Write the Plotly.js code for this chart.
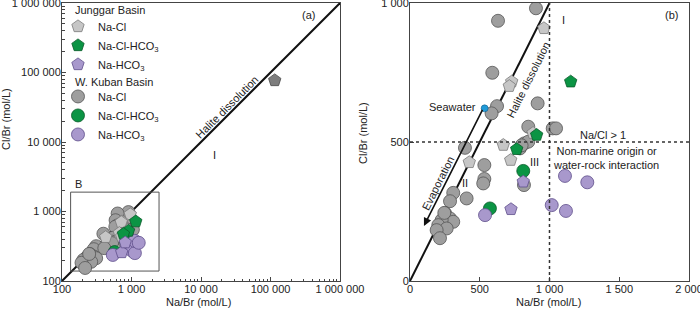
<!DOCTYPE html>
<html><head><meta charset="utf-8">
<script src="https://cdn.plot.ly/plotly-3.0.1.min.js"></script>
<style>html,body{margin:0;padding:0;background:#fff}</style></head>
<body>
<div id="chart" style="width:700px;height:313px"></div>
<script>
// Junggar Basin (pentagons)
const jNaCl_x = [960, 729, 712, 669, 722, 425, 882];
const jNaCl_y = [909, 717, 701, 489, 435, 427, 532];
const jNaClFar_x = [115000];
const jNaClFar_y = [77000];
const jNaClHCO3_x = [1152, 908, 765];
const jNaClHCO3_y = [717, 525, 474];
const jNaHCO3_x = [724, 812];
const jNaHCO3_y = [258, 357];
// W. Kuban Basin (circles)
const kNaCl_x = [903, 631, 590, 915, 624, 585, 1023, 1047, 848, 819, 848, 788, 800, 394, 533, 533, 525, 817, 310, 287, 406, 251, 287, 310, 227, 203, 263, 191, 215, 246];
const kNaCl_y = [981, 936, 749, 639, 629, 603, 549, 549, 555, 495, 501, 477, 488, 479, 417, 367, 351, 345, 317, 287, 297, 244, 225, 213, 219, 201, 189, 183, 154, 245];
const kNaClHCO3_x = [812, 573];
const kNaClHCO3_y = [396, 261];
const kNaHCO3_x = [538, 1016, 1118, 1111, 1271];
const kNaHCO3_y = [237, 273, 252, 378, 355];
// Seawater
const sea_x = [535];
const sea_y = [621];
// reference lines
const haliteA = [100, 1000000];
const haliteB = [0, 1000];
const boxB_x = [133, 2490, 2490, 133, 133];
const boxB_y = [139, 139, 1900, 1900, 139];
const logTicks = [100, 1000, 10000, 100000, 1000000];
const linTicksX = [0, 500, 1000, 1500, 2000];
const linTicksY = [0, 500, 1000];

const FONT = 'Liberation Sans, Arial, sans-serif';
const TXT = '#222';

const styles = {
  kNaCl: {symbol:'circle', size:13, color:'#9e9e9e', line:{color:'#555', width:0.8}},
  kNaClHCO3: {symbol:'circle', size:13, color:'#0b9444', line:{color:'#0a5a2a', width:0.8}},
  kNaHCO3: {symbol:'circle', size:13, color:'#a898cc', line:{color:'#5e4e8a', width:0.8}},
  jNaCl: {symbol:'pentagon', size:13, color:'#c6c6c6', line:{color:'#7a7a7a', width:0.8}},
  jNaClHCO3: {symbol:'pentagon', size:13, color:'#0b9444', line:{color:'#0a5a2a', width:0.8}},
  jNaHCO3: {symbol:'pentagon', size:13, color:'#a898cc', line:{color:'#5e4e8a', width:0.8}},
};

const traces = [];
function line(x, y, xa, ya, color, width) {
  traces.push({x:x, y:y, xaxis:xa, yaxis:ya, mode:'lines', line:{color:color, width:width}, showlegend:false, hoverinfo:'skip'});
}
line(haliteA, haliteA, 'x', 'y', '#111', 2);
line(haliteB, haliteB, 'x2', 'y2', '#111', 2);
line(boxB_x, boxB_y, 'x', 'y', '#555', 1);

function series(x, y, key, name, leg, rank) {
  traces.push({x:x, y:y, xaxis:'x', yaxis:'y', mode:'markers', name:name, marker:styles[key],
    legend:leg, legendrank:rank, showlegend:true});
  traces.push({x:x, y:y, xaxis:'x2', yaxis:'y2', mode:'markers', name:name, marker:styles[key],
    showlegend:false});
}
series(kNaCl_x, kNaCl_y, 'kNaCl', 'Na-Cl', 'legend2', 4);
series(kNaClHCO3_x, kNaClHCO3_y, 'kNaClHCO3', 'Na-Cl-HCO<sub>3</sub>', 'legend2', 5);
series(kNaHCO3_x, kNaHCO3_y, 'kNaHCO3', 'Na-HCO<sub>3</sub>', 'legend2', 6);
series(jNaCl_x, jNaCl_y, 'jNaCl', 'Na-Cl', 'legend', 1);
series(jNaClHCO3_x, jNaClHCO3_y, 'jNaClHCO3', 'Na-Cl-HCO<sub>3</sub>', 'legend', 2);
series(jNaHCO3_x, jNaHCO3_y, 'jNaHCO3', 'Na-HCO<sub>3</sub>', 'legend', 3);
traces.push({x:jNaClFar_x, y:jNaClFar_y, xaxis:'x', yaxis:'y', mode:'markers', showlegend:false,
  marker:{symbol:'pentagon', size:13, color:'#7d7d7d', line:{color:'#4a4a4a', width:0.8}}});
traces.push({x:sea_x, y:sea_y, xaxis:'x2', yaxis:'y2', mode:'markers', showlegend:false,
  marker:{symbol:'circle', size:7, color:'#1f9ad8', line:{color:'#155f8a', width:0.6}}});

const axBase = {showgrid:false, zeroline:false, showline:true, linecolor:'#444', linewidth:1,
  ticks:'inside', ticklen:4, tickcolor:'#444', mirror:true, tickfont:{size:11, color:TXT},
  ticklabeloverflow:'allow', ticklabelstandoff:-2};
const fmt = v => v.toLocaleString('en-US').replace(/,/g, ' ');
const legBase = {xanchor:'left', yanchor:'top', bgcolor:'rgba(0,0,0,0)', traceorder:'normal',
  font:{size:11, color:TXT}, itemwidth:30};
const pa = (x, y, text, extra) => Object.assign({xref:'paper', yref:'paper', x:x, y:y, text:text,
  xanchor:'center', yanchor:'middle', showarrow:false, font:{size:11}}, extra || {});

const layout = {
  width:700, height:313,
  margin:{l:62, r:11, t:3, b:32},
  paper_bgcolor:'#fff', plot_bgcolor:'#fff',
  font:{family:FONT, size:11, color:TXT},
  separators:'. ',
  showlegend:true,
  legend:Object.assign({}, legBase, {x:-0.0064, y:0.968}),
  legend2:Object.assign({}, legBase, {x:-0.0064, y:0.716}),
  xaxis:Object.assign({}, axBase, {type:'log', domain:[0, 0.4434], range:[2, 6],
    tickmode:'array', tickvals:logTicks, ticktext:logTicks.map(fmt),
    minor:{ticks:'inside', ticklen:2.5, dtick:'D1', tickcolor:'#444'}}),
  yaxis:Object.assign({}, axBase, {type:'log', domain:[0, 1], range:[2, 6],
    tickmode:'array', tickvals:logTicks, ticktext:logTicks.map(fmt),
    minor:{ticks:'inside', ticklen:2.5, dtick:'D1', tickcolor:'#444'}}),
  xaxis2:Object.assign({}, axBase, {anchor:'y2', domain:[0.555, 1], range:[0, 2000],
    tickmode:'array', tickvals:linTicksX, ticktext:linTicksX.map(fmt)}),
  yaxis2:Object.assign({}, axBase, {anchor:'x2', domain:[0, 1], range:[0, 1000],
    tickmode:'array', tickvals:linTicksY, ticktext:linTicksY.map(fmt)}),
  shapes:[
    {type:'line', xref:'x2', yref:'y2', x0:1000, x1:1000, y0:0, y1:1000, line:{color:'#333', width:1.5, dash:'dot'}},
    {type:'line', xref:'x2', yref:'y2', x0:0, x1:2000, y0:500, y1:500, line:{color:'#333', width:1.5, dash:'dot'}}
  ],
  annotations:[
    // axis titles
    pa((198-62)/627, (281-302)/278, 'Na/Br (mol/L)'),
    pa((548-62)/627, (281-302)/278, 'Na/Br (mol/L)'),
    pa((6-62)/627, (281-119)/278, 'Cl/Br (mol/L)', {textangle:-90}),
    pa((363-62)/627, (281-133)/278, 'Cl/Br (mol/L)', {textangle:-90}),
    // legend group titles
    pa((73-62)/627, (281-10)/278, 'Junggar Basin', {xanchor:'left'}),
    pa((73-62)/627, (281-82)/278, 'W. Kuban Basin', {xanchor:'left'}),
    // left panel
    {xref:'x', yref:'y', x:5.544, y:5.827, text:'(a)', showarrow:false, font:{size:11}},
    {xref:'x', yref:'y', x:4.37, y:4.51, text:'Halite dissolution', textangle:-45, showarrow:false, font:{size:11}},
    {xref:'x', yref:'y', x:4.19, y:3.81, text:'I', showarrow:false, font:{size:11}},
    {xref:'x', yref:'y', x:2.16, y:3.279, text:'B', xanchor:'left', yanchor:'bottom', showarrow:false, font:{size:11}},
    // right panel
    {xref:'x2', yref:'y2', x:1875, y:956, text:'(b)', showarrow:false, font:{size:11}},
    {xref:'x2', yref:'y2', x:1099, y:939, text:'I', showarrow:false, font:{size:11}},
    {xref:'x2', yref:'y2', x:848, y:723, text:'Halite dissolution', textangle:-63.4, showarrow:false, font:{size:11}},
    {xref:'x2', yref:'y2', x:490, y:625, text:'Seawater', xanchor:'right', showarrow:false, font:{size:11}},
    {xref:'x2', yref:'y2', x:203, y:351, text:'Evaporation', textangle:-63.4, showarrow:false, font:{size:11}},
    {xref:'x2', yref:'y2', x:394, y:351, text:'II', showarrow:false, font:{size:11}},
    {xref:'x2', yref:'y2', x:896, y:429, text:'III', showarrow:false, font:{size:11}},
    {xref:'x2', yref:'y2', x:1386, y:525, text:'Na/Cl > 1', showarrow:false, font:{size:11}},
    {xref:'x2', yref:'y2', x:1403, y:442, text:'Non-marine origin or<br>water-rock interaction', showarrow:false, font:{size:11}},
    {xref:'x2', yref:'y2', axref:'x2', ayref:'y2', x:100, y:198, ax:525, ay:621, text:'', showarrow:true,
      arrowhead:2, arrowsize:1, arrowwidth:1.6, arrowcolor:'#111'}
  ]
};

Plotly.newPlot('chart', traces, layout, {displayModeBar:false, staticPlot:true});
</script>
</body></html>
